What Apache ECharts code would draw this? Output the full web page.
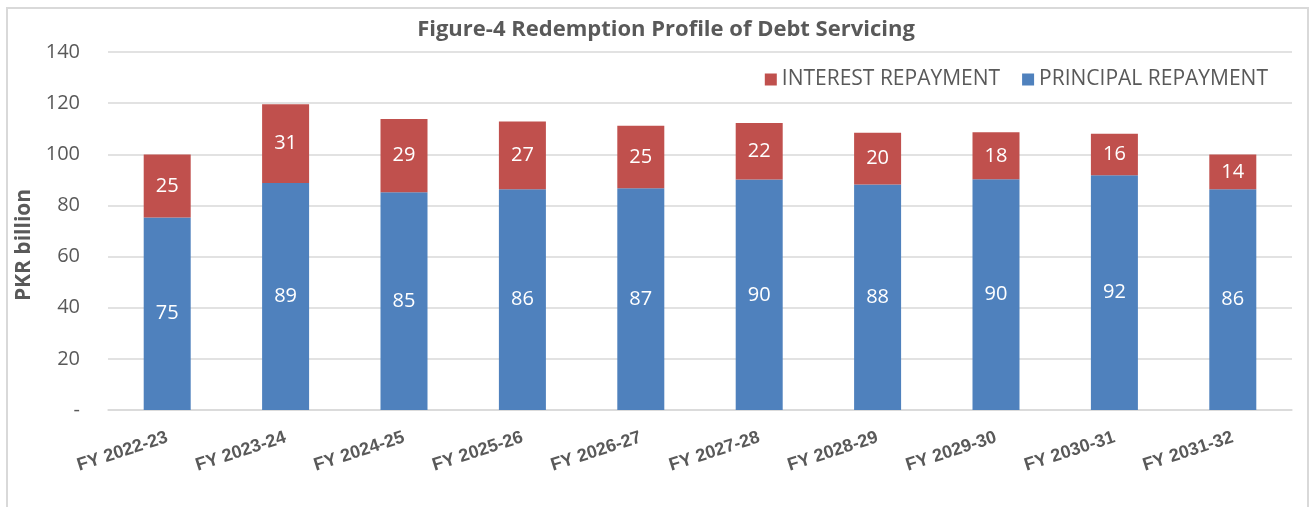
<!DOCTYPE html>
<html>
<head>
<meta charset="utf-8">
<script src="https://cdn.jsdelivr.net/npm/echarts@6/dist/echarts.min.js"></script>
<style>
  html, body { margin: 0; padding: 0; background: #fff; }
  #frame {
    position: absolute; left: 6px; top: 7px; width: 1303px; height: 510px;
    border: 2px solid #d9d9d9; box-sizing: border-box;
  }
  #chart { position: absolute; left: 0; top: 0; width: 1313px; height: 507px; }
</style>
</head>
<body>
<div id="frame"></div>
<div id="chart"></div>
<script>
// 年度
const categories = ['FY 2022-23', 'FY 2023-24', 'FY 2024-25', 'FY 2025-26', 'FY 2026-27',
  'FY 2027-28', 'FY 2028-29', 'FY 2029-30', 'FY 2030-31', 'FY 2031-32']
// 本金 / 利息 (PKR billion)
const principal = [75.3, 88.8, 85.2, 86.3, 86.7, 90.1, 88.2, 90.2, 91.8, 86.3]
const interest = [24.6, 30.8, 28.6, 26.5, 24.5, 22.1, 20.2, 18.4, 16.2, 13.6]
const yTicks = ['-', '20', '40', '60', '80', '100', '120', '140']

const grey = '#595959'
const chart = echarts.init(document.getElementById('chart'))

const labelStyle = {
  show: true,
  position: 'inside',
  color: '#fff',
  fontSize: 20,
  fontFamily: 'Open Sans',
  formatter: (p) => Math.round(p.value),
}

chart.setOption({
  animation: false,
  title: {
    text: 'Figure-4 Redemption Profile of Debt Servicing',
    left: 661,
    textAlign: 'center',
    top: 14,
    textStyle: { color: grey, fontSize: 22, fontWeight: 'bold', fontFamily: 'Open Sans' },
  },
  legend: {
    data: ['INTEREST REPAYMENT', 'PRINCIPAL REPAYMENT'],
    right: 40,
    top: 64,
    itemWidth: 12,
    itemHeight: 12,
    itemGap: 22,
    icon: 'rect',
    textStyle: { color: grey, fontSize: 21, fontFamily: 'Open Sans' },
  },
  grid: { left: 108, right: 21, top: 52, bottom: 97 },
  xAxis: {
    type: 'category',
    data: categories,
    axisLine: { lineStyle: { color: '#d9d9d9', width: 1.5 } },
    axisTick: { show: false },
    axisLabel: {
      rotate: 18,
      margin: 27,
      color: grey,
      fontSize: 18,
      fontWeight: 'bold',
      fontFamily: 'Liberation Sans',
    },
  },
  yAxis: {
    type: 'value',
    min: 0,
    max: 140,
    interval: 20,
    name: 'PKR billion',
    nameLocation: 'middle',
    nameGap: 70,
    nameTextStyle: {
      color: grey, fontSize: 21, fontWeight: 'bold', fontFamily: 'Open Sans',
      padding: [0, 28, 0, 0],
    },
    axisLine: { show: false },
    axisTick: { show: false },
    splitLine: { lineStyle: { color: '#d9d9d9', width: 1.5 } },
    axisLabel: {
      color: grey,
      fontSize: 20,
      fontFamily: 'Open Sans',
      margin: 28,
      formatter: (v) => yTicks[Math.round(v / 20)],
    },
  },
  series: [
    {
      name: 'PRINCIPAL REPAYMENT',
      type: 'bar',
      stack: 'debt',
      barWidth: 47,
      data: principal,
      itemStyle: { color: '#4f81bd' },
      label: labelStyle,
    },
    {
      name: 'INTEREST REPAYMENT',
      type: 'bar',
      stack: 'debt',
      barWidth: 47,
      data: interest,
      itemStyle: { color: '#c0504d' },
      label: labelStyle,
    },
  ],
})
</script>
</body>
</html>
